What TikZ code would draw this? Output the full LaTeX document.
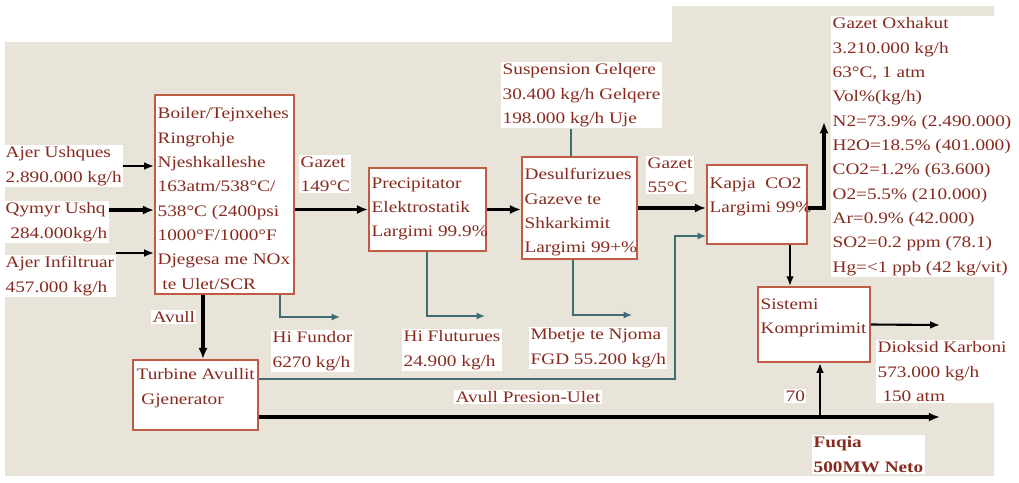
\documentclass[tikz,border=0pt]{standalone}
\usepackage{fontspec}
\setmainfont{Liberation Serif}[FakeStretch=1.2]
\usetikzlibrary{arrows.meta,fit}
\definecolor{txtred}{RGB}{135,42,30}
\definecolor{boxedge}{RGB}{192,92,70}
\definecolor{beige}{RGB}{232,228,218}
\definecolor{pipe}{RGB}{62,108,112}
\begin{document}
\begin{tikzpicture}[x=0.025cm,y=-0.025cm,
  txt/.style={text=txtred,align=left,inner sep=1pt,font=\fontsize{11.4}{17.3}\selectfont},
  lbl/.style={txt,fill=white,anchor=north west},
  box/.style={draw=boxedge,line width=1.3pt,fill=white,inner sep=0pt},
  flow/.style={line width=2.2pt,-{Latex[length=8pt,width=6.5pt]}},
  flowmid/.style={line width=1.5pt,-{Latex[length=7pt,width=5.5pt]}},
  side/.style={pipe,line width=1pt,-{Latex[length=6pt,width=5pt]}}]
\fill[white] (0,0) rectangle (1019,482);
\fill[beige] (5,42) -- (672,42) -- (672,6) -- (994,6) -- (994,476) -- (5,476) -- cycle;
\useasboundingbox (0,0) rectangle (1019,482);

\node[box,fit={(155,95) (294,294)}] (boil) {};
\node[txt,anchor=north west] (boiltxt) at (156,106) {Boiler/Tejnxehes\\Ringrohje\\Njeshkalleshe\\163atm/538°C/\\538°C (2400psi\\1000°F/1000°F\\Djegesa me NOx\\\ te Ulet/SCR};
\node[box,fit={(369,168) (486,251)}] (prec) {};
\node[txt,anchor=north west] (prectxt) at (370,176) {Precipitator\\Elektrostatik\\Largimi 99.9\%};
\node[box,fit={(522,157) (637,259)}] (desu) {};
\node[txt,anchor=north west] (desutxt) at (523,167) {Desulfurizues\\Gazeve te\\Shkarkimit\\Largimi 99+\%};
\node[box,fit={(707,165) (807,244)}] (kapj) {};
\node[txt,anchor=north west] (kapjtxt) at (708,176) {Kapja\ \ CO2\\Largimi 99\%};
\node[box,fit={(758,287) (870,362)}] (komp) {};
\node[txt,anchor=north west] (komptxt) at (759,297) {Sistemi\\Komprimimit};
\node[box,fit={(133,360) (258,430)}] (turb) {};
\node[txt,anchor=north west] (turbtxt) at (135,367) {Turbine Avullit\\\ Gjenerator};

\node[lbl] (ajer) at (4,145) {Ajer Ushques\\2.890.000 kg/h};
\node[lbl] (qymyr) at (4,201) {Qymyr Ushq\\\ 284.000kg/h};
\node[lbl] (infil) at (4,255) {Ajer Infiltruar\\457.000 kg/h};
\node[lbl] (gaz1) at (299,155) {Gazet\\149°C};
\node[lbl] (susp) at (501,62) {Suspension Gelqere\\30.400 kg/h Gelqere\\198.000 kg/h Uje};
\node[lbl] (gaz2) at (646,156) {Gazet\\55°C};
\node[lbl] (oxh) at (831,16) {Gazet Oxhakut\\3.210.000 kg/h\\63°C, 1 atm\\Vol\%(kg/h)\\N2=73.9\% (2.490.000)\\H2O=18.5\% (401.000)\\CO2=1.2\% (63.600)\\O2=5.5\% (210.000)\\Ar=0.9\% (42.000)\\SO2=0.2 ppm (78.1)\\Hg=<1 ppb (42 kg/vit)};
\node[lbl] (diok) at (876,340) {Dioksid Karboni\\573.000 kg/h\\\ 150 atm};
\node[lbl] (sev) at (784,389) {70};
\node[lbl,font=\fontsize{11.4}{17.3}\selectfont\bfseries] (fuq) at (812,435) {Fuqia\\500MW Neto};
\node[lbl] (avull) at (151,310) {Avull};
\node[lbl] (fund) at (271,330) {Hi Fundor\\6270 kg/h};
\node[lbl] (flut) at (402,329) {Hi Fluturues\\24.900 kg/h};
\node[lbl] (mbet) at (529,327) {Mbetje te Njoma\\FGD 55.200 kg/h};
\node[lbl] (avpr) at (454,390) {Avull Presion-Ulet};

\coordinate (oxtip) at (824,122);
\coordinate (co2end) at (940,325);
\coordinate (powend) at (940,417);
\coordinate (j70) at (820,417);
\coordinate (lpup) at (675,236);
\coordinate (fundin) at (340,317);
\coordinate (flutin) at (485,316);
\coordinate (mbetin) at (632,315);

\draw[flowmid] (ajer.east |- 0,166) -- (boil.west |- 0,166);
\draw[flow,line width=2.6pt] (qymyr.east |- 0,210) -- (boil.west |- 0,210);
\draw[flowmid] (infil.east |- 0,253) -- (boil.west |- 0,253);
\draw[flow] (boil.east |- prec.west) -- (prec.west);
\draw[flow] (prec.east) -- (prec.east -| desu.west);
\draw[flow] (desu.east) -- (desu.east -| kapj.west);
\draw[flow] (kapj.east |- desu.east) -| (oxtip);
\draw[flowmid] (kapj.south -| 790,0) -- (komp.north -| 790,0);
\draw[flowmid] (komp.east) -- (co2end);
\draw[flow] (boil.south -| 203,0) -- (turb.north -| 203,0);
\draw[flow] (turb.east |- powend) -- (powend);
\draw[flowmid] (j70) -- (komp.south -| j70);
\draw[side] (turb.east |- 0,379) -| (lpup) -- (lpup -| kapj.west);
\draw[side] (boil.south -| 280,0) |- (fundin);
\draw[side] (prec.south -| 427,0) |- (flutin);
\draw[side] (desu.south -| 573,0) |- (mbetin);
\draw[pipe,line width=1pt] (susp.south -| 571,0) -- (desu.north -| 571,0);
\end{tikzpicture}
\end{document}
